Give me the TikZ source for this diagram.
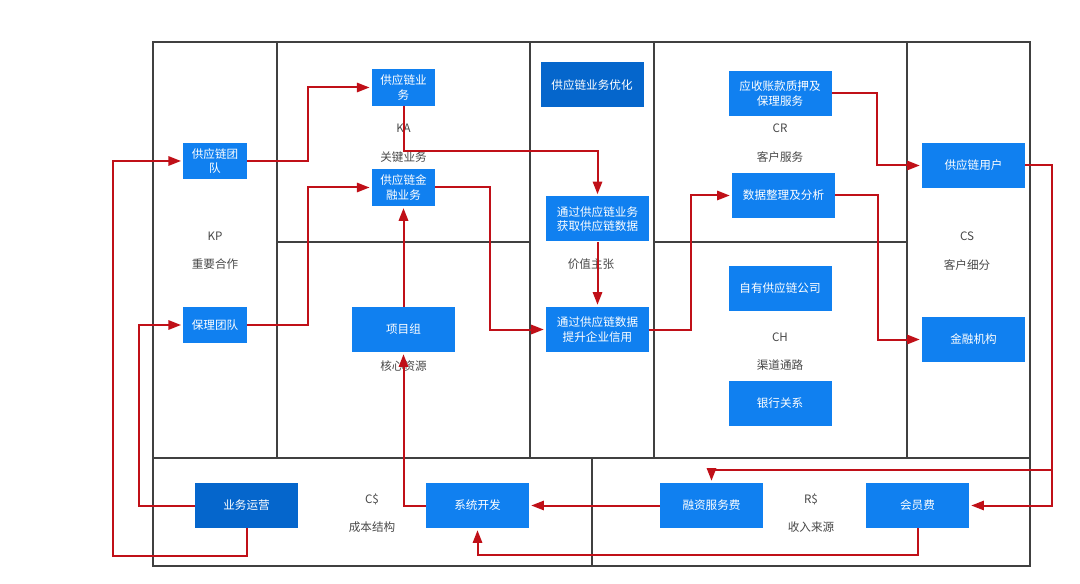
\documentclass[tikz,border=0pt]{standalone}
\usepackage{fontspec}
\setmainfont{Noto Sans CJK SC}
\usetikzlibrary{arrows.meta}
\definecolor{boxblue}{RGB}{16,128,240}
\definecolor{boxdark}{RGB}{5,102,204}
\definecolor{linkred}{RGB}{192,16,24}
\definecolor{framegray}{RGB}{64,64,64}
\definecolor{labelgray}{RGB}{72,72,72}

\begin{document}
\begin{tikzpicture}[x=0.75pt,y=0.75pt,yscale=-1,xscale=1,
  blk/.style={fill=boxblue,text=white,inner sep=0pt,align=center,minimum width=77.25pt,minimum height=33.75pt,font=\fontsize{8.7}{11}\selectfont},
  blksm/.style={blk,minimum width=47.5pt,minimum height=27.5pt},
  lbl/.style={text=labelgray,inner sep=0.75pt,font=\fontsize{8.7}{11}\selectfont},
  link/.style={draw=linkred,line width=1.5pt,-{Triangle[length=9.5pt,width=7pt]},shorten >=1.5pt},
  canvasline/.style={draw=framegray,line width=1.2pt}]
\useasboundingbox (0,0) rectangle (1080,584);

%Shape: Canvas frame
\draw [canvasline] (153,42) rectangle (1030,566) ;
%Straight Lines
\draw [canvasline] (277,42) -- (277,458) ;
\draw [canvasline] (530,42) -- (530,458) ;
\draw [canvasline] (654,42) -- (654,458) ;
\draw [canvasline] (907,42) -- (907,458) ;
\draw [canvasline] (153,458) -- (1030,458) ;
\draw [canvasline] (277,242) -- (530,242) ;
\draw [canvasline] (654,242) -- (907,242) ;
\draw [canvasline] (592,458) -- (592,566) ;

% Text Node
\node [lbl] (kpT) at (215,236) {KP};
\node [lbl] (kpC) at (215,264) {重要合作};
\node [lbl] (kaT) at (403.5,128) {KA};
\node [lbl] (kaC) at (403.5,157) {关键业务};
\node [lbl] (krC) at (403.5,366) {核心资源};
\node [lbl] (vpC) at (591,264) {价值主张};
\node [lbl] (crT) at (780,128) {CR};
\node [lbl] (crC) at (780,157) {客户服务};
\node [lbl] (chT) at (780,337) {CH};
\node [lbl] (chC) at (780,365) {渠道通路};
\node [lbl] (csT) at (967,236) {CS};
\node [lbl] (csC) at (967,265) {客户细分};
\node [lbl] (cstT) at (372,499) {C\$};
\node [lbl] (cstC) at (372,527) {成本结构};
\node [lbl] (rsT) at (811,499) {R\$};
\node [lbl] (rsC) at (811,527) {收入来源};

%Shape: Blocks
\node [blksm] (team) at (215,161) {供应链团\\队};
\node [blksm] (factor) at (215,325) {保理团队};
\node [blksm] (ksb) at (403.5,87.5) {供应链业\\务};
\node [blksm] (sfin) at (403.5,187.5) {供应链金\\融业务};
\node [blk] (proj) at (403.5,329.5) {项目组};
\node [blk,fill=boxdark] (optim) at (592,85) {供应链业务优化};
\node [blk] (getdata) at (597.5,219) {通过供应链业务\\获取供应链数据};
\node [blk] (credit) at (597.5,329.5) {通过供应链数据\\提升企业信用};
\node [blk] (pledge) at (780,93.5) {应收账款质押及\\保理服务};
\node [blk] (analysis) at (783.5,195.5) {数据整理及分析};
\node [blk] (ownco) at (780,288.5) {自有供应链公司};
\node [blk] (bank) at (780,403.5) {银行关系};
\node [blk] (users) at (973.5,165.5) {供应链用户};
\node [blk] (finorg) at (973.5,339.5) {金融机构};
\node [blk,fill=boxdark] (ops) at (246.5,505.5) {业务运营};
\node [blk] (sysdev) at (477.5,505.5) {系统开发};
\node [blk] (fee) at (711.5,505.5) {融资服务费};
\node [blk] (member) at (917.5,505.5) {会员费};

\coordinate (rbranch) at (1052,470);
\coordinate (lrail) at (113,556);

%Straight Lines: links
\draw [link] (team.east) -- ++(61,0) |- (ksb.west) ;
\draw [link] (factor.east) -- ++(61,0) |- (sfin.west) ;
\draw [link] (ksb.south) -- ++(0,45) -| (getdata.north) ;
\draw [link] (sfin.east) -- ++(55,0) |- (credit.west) ;
\draw [link] (proj.north) -- (sfin.south) ;
\draw [link] (getdata.south) -- (credit.north) ;
\draw [link] (credit.east) -- ++(42,0) |- (analysis.west) ;
\draw [link] (pledge.east) -- ++(45,0) |- (users.west) ;
\draw [link] (analysis.east) -- ++(43,0) |- (finorg.west) ;
\draw [link] (users.east) -- ++(27,0) |- (member.east) ;
\draw [link] (rbranch) -| (fee.north) ;
\draw [link] (member.south) -- ++(0,27) -| (sysdev.south) ;
\draw [link] (fee.west) -- (sysdev.east) ;
\draw [link] (sysdev.west) -| (proj.south) ;
\draw [link] (ops.west) -- ++(-56,0) |- (factor.west) ;
\draw [link] (ops.south) |- (lrail) |- (team.west) ;

\end{tikzpicture}
\end{document}
